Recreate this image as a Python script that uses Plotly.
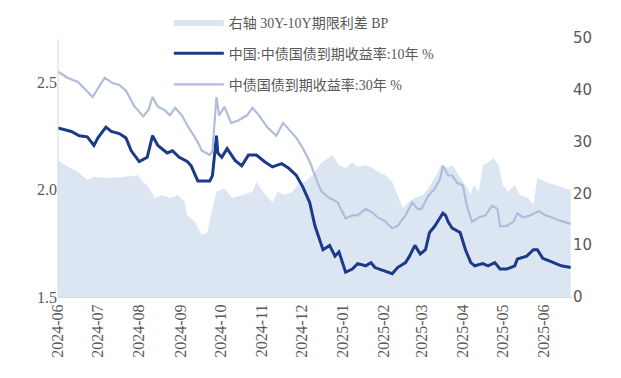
import plotly.graph_objects as go

# ---- data ----
spread_dates = ["2024-06-01","2024-06-08","2024-06-16","2024-06-23","2024-06-28","2024-07-06","2024-07-13",
    "2024-07-21","2024-07-31","2024-08-03","2024-08-07","2024-08-13","2024-08-18","2024-08-24","2024-08-30",
    "2024-09-04","2024-09-06","2024-09-12","2024-09-17","2024-09-21","2024-09-23","2024-09-25","2024-09-28",
    "2024-10-04","2024-10-10","2024-10-17","2024-10-25","2024-10-28","2024-11-02","2024-11-09","2024-11-13",
    "2024-11-18","2024-11-24","2024-11-28","2024-12-03","2024-12-09","2024-12-13","2024-12-16","2024-12-21",
    "2024-12-24","2024-12-29","2025-01-03","2025-01-08","2025-01-12","2025-01-18","2025-01-23","2025-01-28",
    "2025-02-02","2025-02-07","2025-02-15","2025-02-19","2025-02-24","2025-03-02","2025-03-06","2025-03-11",
    "2025-03-16","2025-03-21","2025-03-24","2025-03-29","2025-04-03","2025-04-07","2025-04-09","2025-04-13",
    "2025-04-16","2025-04-20","2025-04-24","2025-04-28","2025-05-01","2025-05-05","2025-05-10","2025-05-14",
    "2025-05-20","2025-05-24","2025-05-27","2025-06-02","2025-06-10","2025-06-17","2025-06-21"]
spread_bp = [26.4,25.2,24.2,22.6,23.2,23.0,23.0,
    23.2,23.5,22.3,21.6,19.1,19.7,19.1,19.7,
    18.4,15.8,14.5,12.0,12.4,14.9,17.2,20.3,
    21.0,19.1,19.7,20.3,22.2,20.3,18.3,20.3,
    19.7,20.3,21.6,22.2,23.5,24.9,26.0,26.8,
    27.4,25.5,24.9,26.0,25.1,25.5,24.9,24.1,
    23.5,22.2,17.2,18.3,19.1,19.7,21.0,23.0,
    25.5,24.9,25.5,23.5,21.6,19.7,21.6,20.3,
    25.5,26.0,26.8,25.5,21.6,20.3,21.6,19.7,
    19.1,17.8,23.0,22.2,21.6,21.0,20.7]

y10_dates = ["2024-06-01","2024-06-11","2024-06-17","2024-06-23","2024-06-28","2024-07-01","2024-07-07",
    "2024-07-11","2024-07-17","2024-07-22","2024-07-26","2024-08-01","2024-08-07","2024-08-11","2024-08-15",
    "2024-08-22","2024-08-26","2024-08-31","2024-09-06","2024-09-09","2024-09-14","2024-09-19","2024-09-23",
    "2024-09-25","2024-09-28","2024-09-29","2024-10-02","2024-10-06","2024-10-12","2024-10-17","2024-10-22",
    "2024-10-28","2024-11-03","2024-11-09","2024-11-16","2024-11-21","2024-11-27","2024-12-02","2024-12-07",
    "2024-12-11","2024-12-15","2024-12-17","2024-12-22","2024-12-26","2024-12-29","2025-01-03","2025-01-08",
    "2025-01-12","2025-01-18","2025-01-22","2025-01-25","2025-02-01","2025-02-07","2025-02-11","2025-02-17",
    "2025-02-20","2025-02-24","2025-02-28","2025-03-04","2025-03-07","2025-03-11","2025-03-15","2025-03-17",
    "2025-03-19","2025-03-21","2025-03-24","2025-03-30","2025-04-03","2025-04-07","2025-04-10","2025-04-16",
    "2025-04-20","2025-04-25","2025-04-29","2025-05-04","2025-05-10","2025-05-12","2025-05-19","2025-05-24",
    "2025-05-27","2025-05-31","2025-06-04","2025-06-10","2025-06-14","2025-06-21"]
y10_pct = [2.286,2.27,2.25,2.245,2.205,2.24,2.29,
    2.27,2.26,2.24,2.18,2.13,2.15,2.25,2.205,
    2.17,2.18,2.15,2.13,2.11,2.04,2.04,2.04,
    2.065,2.25,2.17,2.15,2.19,2.135,2.11,2.16,
    2.16,2.13,2.105,2.12,2.10,2.065,2.01,1.94,
    1.83,1.75,1.72,1.74,1.69,1.71,1.615,1.63,
    1.655,1.645,1.66,1.637,1.62,1.608,1.637,1.66,
    1.69,1.74,1.70,1.72,1.80,1.83,1.87,1.89,
    1.88,1.85,1.82,1.80,1.72,1.66,1.645,1.655,
    1.645,1.66,1.63,1.63,1.645,1.677,1.69,1.72,
    1.72,1.68,1.67,1.655,1.645,1.637]

y30_dates = ["2024-06-01","2024-06-08","2024-06-16","2024-06-22","2024-06-27","2024-07-01","2024-07-06",
    "2024-07-12","2024-07-17","2024-07-22","2024-07-28","2024-08-04","2024-08-08","2024-08-11","2024-08-15",
    "2024-08-20","2024-08-24","2024-08-28","2024-09-02","2024-09-06","2024-09-09","2024-09-14","2024-09-17",
    "2024-09-23","2024-09-25","2024-09-28","2024-09-30","2024-10-04","2024-10-09","2024-10-14","2024-10-21",
    "2024-10-25","2024-10-30","2024-11-05","2024-11-12","2024-11-17","2024-11-22","2024-11-27","2024-12-02",
    "2024-12-07","2024-12-11","2024-12-13","2024-12-16","2024-12-22","2024-12-28","2025-01-03","2025-01-08",
    "2025-01-12","2025-01-18","2025-01-23","2025-01-27","2025-02-01","2025-02-07","2025-02-11","2025-02-17",
    "2025-02-22","2025-02-26","2025-03-01","2025-03-06","2025-03-11","2025-03-15","2025-03-17","2025-03-21",
    "2025-03-24","2025-03-28","2025-04-01","2025-04-04","2025-04-08","2025-04-13","2025-04-18","2025-04-23",
    "2025-04-27","2025-04-29","2025-05-04","2025-05-09","2025-05-12","2025-05-16","2025-05-22","2025-05-28",
    "2025-06-02","2025-06-07","2025-06-13","2025-06-21"]
y30_pct = [2.548,2.52,2.50,2.46,2.43,2.47,2.52,
    2.495,2.486,2.46,2.39,2.34,2.37,2.43,2.385,
    2.37,2.345,2.38,2.345,2.30,2.27,2.22,2.18,
    2.16,2.18,2.43,2.345,2.385,2.31,2.32,2.345,
    2.38,2.345,2.29,2.25,2.31,2.275,2.24,2.19,
    2.13,2.065,2.03,1.99,1.96,1.94,1.865,1.88,
    1.88,1.91,1.894,1.87,1.855,1.82,1.83,1.88,
    1.94,1.91,1.91,1.97,2.005,2.05,2.11,2.065,
    2.065,2.03,2.02,1.925,1.85,1.87,1.88,1.925,
    1.91,1.83,1.83,1.85,1.89,1.87,1.88,1.90,
    1.88,1.87,1.855,1.84]

names = ["右轴 30Y-10Y期限利差 BP", "中国:中债国债到期收益率:10年 %", "中债国债到期收益率:30年 %"]
left_ticks = [1.5, 2.0, 2.5]
right_ticks = [0, 10, 20, 30, 40, 50]

SERIF = "Liberation Serif, DejaVu Serif, Noto Sans CJK SC, serif"
SANS = "DejaVu Sans, Noto Sans, sans-serif"

fig = go.Figure()
fig.add_trace(go.Scatter(x=spread_dates, y=spread_bp, name=names[0], mode="lines",
    line=dict(width=0, color="#dce6f3"), fill="tozeroy", fillcolor="#dce6f3",
    yaxis="y", legendgroup="a"))
fig.add_trace(go.Scatter(x=y10_dates, y=y10_pct, name=names[1], mode="lines",
    line=dict(width=3, color="#1b3a8a"), yaxis="y2", legendgroup="b"))
fig.add_trace(go.Scatter(x=y30_dates, y=y30_pct, name=names[2], mode="lines",
    line=dict(width=2.2, color="#afbcdc"), yaxis="y2", legendgroup="c"))

# left axis line only spanning the visible value range
fig.add_shape(type="line", xref="paper", yref="y2", x0=0, x1=0, y0=1.5, y1=2.7,
              line=dict(color="#d9d9d9", width=1))

fig.update_layout(
    width=621, height=378,
    margin=dict(l=58, r=49, t=5, b=81),
    paper_bgcolor="white", plot_bgcolor="white",
    showlegend=True,
    legend=dict(x=0.2156, y=0.995, xanchor="left", yanchor="top",
                bgcolor="rgba(0,0,0,0)", font=dict(family=SERIF, size=14, color="#595959"),
                tracegroupgap=10, itemwidth=50),
    xaxis=dict(type="date", range=["2024-06-01", "2025-06-22"], dtick="M1",
               tick0="2024-06-01", tickformat="%Y-%m", tickangle=-90,
               showgrid=False, showline=True, linecolor="#d9d9d9", linewidth=1,
               ticks="", tickfont=dict(family=SERIF, size=16, color="#595959")),
    yaxis=dict(side="right", range=[0, 56.37], tickvals=right_ticks, showgrid=False,
               zeroline=False, showline=False, ticks="",
               tickfont=dict(family=SANS, size=15, color="#595959")),
    yaxis2=dict(side="left", overlaying="y", range=[1.5, 2.858], tickvals=left_ticks,
                tickformat=".1f", showgrid=False, zeroline=False, showline=False, ticks="",
                tickfont=dict(family=SERIF, size=16, color="#595959")),
)

fig.write_html("out.html", config={"displayModeBar": False},
               post_script="document.body.style.margin='0';document.body.style.overflow='hidden';")
